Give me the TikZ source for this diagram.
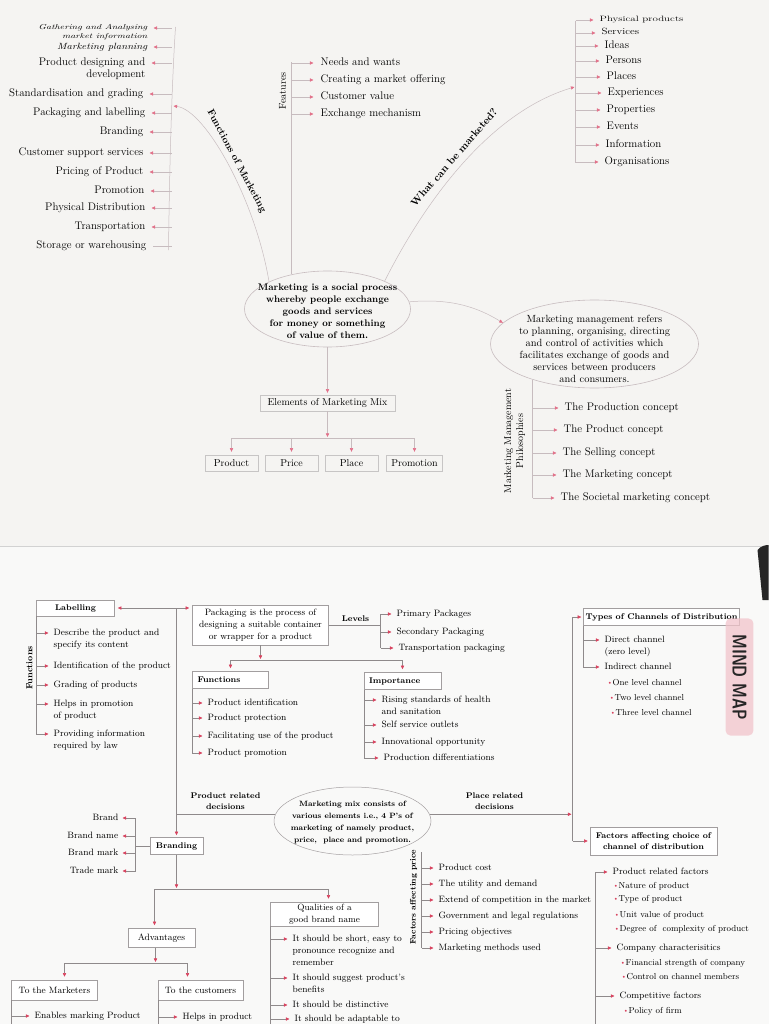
\documentclass[tikz,border=0pt]{standalone}
\usetikzlibrary{arrows.meta,shapes.geometric}

\definecolor{paper}{HTML}{F5F4F2}
\definecolor{sheet}{HTML}{F9F9F8}
\definecolor{wire}{HTML}{C7BCBF}
\definecolor{wiredark}{HTML}{8F8A8B}
\definecolor{tippink}{HTML}{E2718A}
\definecolor{tipred}{HTML}{D8435F}
\definecolor{boxline}{HTML}{A29E9F}
\definecolor{tagpink}{HTML}{F2C4CB}

\newcommand{\redpip}{\textcolor{tipred}{\raisebox{1.2pt}{\scalebox{.55}{$\bullet$}}}\,}

\begin{document}
\begin{tikzpicture}[x=1pt,y=-1pt,
  up/.style={inner sep=1pt,font=\fontsize{11}{12}\selectfont,text height=7.5pt,text depth=2.5pt},
  low/.style={inner sep=1pt,font=\fontsize{9.2}{11}\selectfont,text height=7pt,text depth=2.5pt},
  sub/.style={low,font=\fontsize{8.7}{10}\selectfont},
  lowbold/.style={font=\fontsize{8.3}{11}\selectfont\bfseries},
  uparrow/.style={draw=wire,line width=.5pt,shorten >=5pt,-{Triangle[length=3.6pt,width=3.2pt,color=tippink]}},
  uplink/.style={draw=wire,line width=.5pt},
  lowarrow/.style={draw=wiredark,line width=.5pt,shorten >=4pt,-{Triangle[length=3.6pt,width=3.2pt,color=tipred]}},
  lowlink/.style={draw=wiredark,line width=.5pt},
  mixbox/.style={draw=boxline!60,line width=.4pt,inner sep=1pt,minimum height=16pt,font=\fontsize{10}{11}\selectfont},
  lowbox/.style={draw=boxline,fill=white,line width=.5pt,inner sep=2pt,minimum height=17pt}]

  % two pages of the book
  \fill[paper] (0,0) rectangle (768,547);
  \fill[sheet] (0,547) rectangle (768,1024);
  \draw[gray!35,line width=1pt] (0,546) -- (768,546);
  \fill[black!85] (757,550) .. controls (760,546) and (765,545) .. (768,545) -- (768,600) -- (762,600) -- cycle;
  \useasboundingbox (0,0) rectangle (768,1024);

  % ---------------- first map ----------------
  \node[ellipse,draw=wire,line width=.6pt,minimum width=166pt,minimum height=76pt,inner sep=0pt] (core) at (327,309) {};
  \node[align=center,font=\fontsize{9.6}{12}\selectfont\bfseries] (coretext) at (327,311) {Marketing is a social process\\whereby people exchange\\goods and services\\for money or something\\of value of them.};

  \node[ellipse,draw=wire,line width=.6pt,minimum width=208pt,minimum height=88pt,inner sep=0pt] (mgmt) at (594,344) {};
  \node[align=center,font=\fontsize{10.4}{12}\selectfont] (mgmttext) at (594,349) {Marketing management refers\\to planning, organising, directing\\and control of activities which\\facilitates exchange of goods and\\services between producers\\and consumers.};
  \draw[uparrow,shorten >=0pt] (core.5) .. controls (452,298) and (478,308) .. (mgmt.167);

  % functions of marketing
  \draw[uplink] (175,27) .. controls (171,90) and (169,170) .. (168,250);
  \coordinate (fbar) at (171,0);
  \coordinate (fjoin) at (173,106);
  \draw[uparrow,shorten >=0pt] (core.155) .. controls (255,200) and (205,110) .. (fjoin);
  \node[rotate=-62,anchor=south,font=\fontsize{9.8}{10}\selectfont\bfseries] (fnlabel) at (229,165) {Functions of Marketing};
  \node[anchor=east,inner sep=1pt,text height=5pt,text depth=1.5pt,font=\fontsize{10}{10}\itshape] (fn1) at (148,28) {\scalebox{1}[.72]{Gathering and Analysing}};
  \node[anchor=north east,inner sep=1pt,text height=5pt,text depth=1.5pt,font=\fontsize{10}{10}\itshape] (fn1b) at (fn1.south east) {\scalebox{1}[.72]{market information}};
  \node[up,anchor=east,font=\fontsize{10.6}{12}\itshape] (fn2) at (148,47) {\scalebox{1}[.85]{Marketing planning}};
  \node[up,anchor=east] (fn3) at (146,63) {Product designing and};
  \node[up,anchor=north east] (fn3b) at (fn3.south east) {development};
  \node[up,anchor=east] (fn4) at (144,94) {Standardisation and grading};
  \node[up,anchor=east] (fn5) at (146,113) {Packaging and labelling};
  \node[up,anchor=east] (fn6) at (144,132) {Branding};
  \node[up,anchor=east] (fn7) at (144,153) {Customer support services};
  \node[up,anchor=east] (fn8) at (144,172) {Pricing of Product};
  \node[up,anchor=east] (fn9) at (145,191) {Promotion};
  \node[up,anchor=east] (fn10) at (146,208) {Physical Distribution};
  \node[up,anchor=east] (fn11) at (146,227) {Transportation};
  \node[up,anchor=east] (fn12) at (147,246) {Storage or warehousing};
  \draw[uparrow] (fbar |- fn1.east) -- (fn1.east);
  \draw[uparrow] (fbar |- fn2.east) -- (fn2.east);
  \draw[uparrow] (fbar |- fn3.east) -- (fn3.east);
  \draw[uparrow] (fbar |- fn4.east) -- (fn4.east);
  \draw[uparrow] (fbar |- fn5.east) -- (fn5.east);
  \draw[uparrow] (fbar |- fn6.east) -- (fn6.east);
  \draw[uparrow] (fbar |- fn7.east) -- (fn7.east);
  \draw[uparrow] (fbar |- fn8.east) -- (fn8.east);
  \draw[uparrow] (fbar |- fn9.east) -- (fn9.east);
  \draw[uparrow] (fbar |- fn10.east) -- (fn10.east);
  \draw[uparrow] (fbar |- fn11.east) -- (fn11.east);
  \draw[uplink,shorten >=5pt] (fbar |- fn12.east) -- (fn12.east);

  % features
  \node[rotate=90,font=\fontsize{10}{10}\selectfont] (featlabel) at (282,91) {Features};
  \draw[uplink] (core.136) -- ++(0,-212) coordinate (ftop);
  \node[up,anchor=west] (ft1) at (319,63) {Needs and wants};
  \node[up,anchor=west] (ft2) at (319,80) {Creating a market offering};
  \node[up,anchor=west] (ft3) at (319,97) {Customer value};
  \node[up,anchor=west] (ft4) at (319,114) {Exchange mechanism};
  \draw[uparrow,shorten >=6pt] (ftop |- ft1.west) -- (ft1.west);
  \draw[uparrow,shorten >=6pt] (ftop |- ft2.west) -- (ft2.west);
  \draw[uparrow,shorten >=6pt] (ftop |- ft3.west) -- (ft3.west);
  \draw[uparrow,shorten >=6pt] (ftop |- ft4.west) -- (ft4.west);

  % what can be marketed
  \coordinate (wjoin) at (574,87);
  \coordinate (wtop) at (575,21);
  \coordinate (wbot) at (575,163);
  \draw[uplink] (wtop) -- (wbot);
  \draw[uparrow,shorten >=0pt] (core.26) .. controls (425,200) and (490,112) .. (wjoin);
  \node[rotate=49,anchor=south,font=\fontsize{10.4}{11}\selectfont\bfseries] (wlabel) at (459,162) {What can be marketed?};
  \node[up,anchor=west,text height=5pt,text depth=1.5pt] (wm1) at (598,20) {\scalebox{1}[.7]{Physical products}};
  \node[up,anchor=west,text height=6pt,text depth=2pt] (wm2) at (600,33) {\scalebox{1}[.82]{Services}};
  \node[up,anchor=west] (wm3) at (603,46) {Ideas};
  \node[up,anchor=west] (wm4) at (604,61) {Persons};
  \node[up,anchor=west] (wm5) at (605,77) {Places};
  \node[up,anchor=west] (wm6) at (606,93) {Experiences};
  \node[up,anchor=west] (wm7) at (605,110) {Properties};
  \node[up,anchor=west] (wm8) at (605,127) {Events};
  \node[up,anchor=west] (wm9) at (604,145) {Information};
  \node[up,anchor=west] (wm10) at (603,162) {Organisations};
  \draw[uparrow] (wtop |- wm1.west) -- (wm1.west);
  \draw[uparrow] (wtop |- wm2.west) -- (wm2.west);
  \draw[uparrow] (wtop |- wm3.west) -- (wm3.west);
  \draw[uparrow] (wtop |- wm4.west) -- (wm4.west);
  \draw[uparrow] (wtop |- wm5.west) -- (wm5.west);
  \draw[uparrow] (wtop |- wm6.west) -- (wm6.west);
  \draw[uparrow] (wtop |- wm7.west) -- (wm7.west);
  \draw[uparrow] (wtop |- wm8.west) -- (wm8.west);
  \draw[uparrow] (wtop |- wm9.west) -- (wm9.west);
  \draw[uparrow] (wtop |- wm10.west) -- (wm10.west);

  % philosophies
  \node[rotate=90,align=center,font=\fontsize{10}{12}\selectfont] (phlabel) at (514,441) {Marketing Management\\Philosophies};
  \draw[uplink] (mgmt.210) -- ++(0,118) coordinate (pbot);
  \node[up,anchor=west] (ph1) at (563,408) {The Production concept};
  \node[up,anchor=west] (ph2) at (562,430) {The Product concept};
  \node[up,anchor=west] (ph3) at (561,453) {The Selling concept};
  \node[up,anchor=west] (ph4) at (561,475) {The Marketing concept};
  \node[up,anchor=west] (ph5) at (559,498) {The Societal marketing concept};
  \draw[uparrow] (pbot |- ph1.west) -- (ph1.west);
  \draw[uparrow] (pbot |- ph2.west) -- (ph2.west);
  \draw[uparrow] (pbot |- ph3.west) -- (ph3.west);
  \draw[uparrow] (pbot |- ph4.west) -- (ph4.west);
  \draw[uparrow] (pbot |- ph5.west) -- (ph5.west);

  % elements of the mix
  \node[mixbox,minimum width=135pt] (elem) at (327,403) {Elements of Marketing Mix};
  \draw[uparrow,shorten >=2pt] (core.south) -- (elem.north);
  \coordinate (mixsplit) at (327,438);
  \draw[uparrow,shorten >=1pt] (elem.south) -- (mixsplit);
  \node[mixbox,minimum width=53pt] (pprod) at (231,463) {Product};
  \node[mixbox,minimum width=53pt] (pprice) at (291,463) {Price};
  \node[mixbox,minimum width=53pt] (pplace) at (351,463) {Place};
  \node[mixbox,minimum width=56pt] (ppromo) at (414,463) {Promotion};
  \draw[uplink] (pprod.north |- mixsplit) -- (ppromo.north |- mixsplit);
  \draw[uparrow,shorten >=3pt] (pprod.north |- mixsplit) -- (pprod.north);
  \draw[uparrow,shorten >=3pt] (pprice.north |- mixsplit) -- (pprice.north);
  \draw[uparrow,shorten >=3pt] (pplace.north |- mixsplit) -- (pplace.north);
  \draw[uparrow,shorten >=3pt] (ppromo.north |- mixsplit) -- (ppromo.north);

  % ---------------- second map ----------------
  \node[lowbox,lowbold,minimum width=78pt,minimum height=16pt] (lab) at (75,608) {Labelling};
  \node[lowbox,align=center,minimum width=136pt,minimum height=40pt,font=\fontsize{9.2}{11.8}\selectfont] (pack) at (260,625) {Packaging is the process of\\designing a suitable container\\or wrapper for a product};
  \coordinate (jl) at (176,608);
  \draw[lowarrow,shorten >=3pt] (jl) -- (lab.east);
  \draw[lowarrow,shorten >=3pt] (jl) -- (jl -| pack.west);

  % labelling
  \node[rotate=90,font=\fontsize{8.8}{9}\selectfont\bfseries] (labfun) at (29,668) {Functions};
  \node[low,anchor=west] (lf1) at (52,633) {Describe the product and};
  \node[low,anchor=north west] (lf1b) at (lf1.south west) {specify its content};
  \node[low,anchor=west] (lf2) at (52,666) {Identification of the product};
  \node[low,anchor=west] (lf3) at (52,685) {Grading of products};
  \node[low,anchor=west] (lf4) at (52,704) {Helps in promotion};
  \node[low,anchor=north west] (lf4b) at (lf4.south west) {of product};
  \node[low,anchor=west] (lf5) at (52,734) {Providing information};
  \node[low,anchor=north west] (lf5b) at (lf5.south west) {required by law};
  \draw[lowlink] (lab.south west) -- (lab.south west |- lf5.west);
  \draw[lowarrow] (lab.south west |- lf1.west) -- (lf1.west);
  \draw[lowarrow] (lab.south west |- lf2.west) -- (lf2.west);
  \draw[lowarrow] (lab.south west |- lf3.west) -- (lf3.west);
  \draw[lowarrow] (lab.south west |- lf4.west) -- (lf4.west);
  \draw[lowarrow] (lab.south west |- lf5.west) -- (lf5.west);

  % packaging levels
  \node[lowbold] (lev) at (355,619) {Levels};
  \coordinate (levbar) at (380,625);
  \draw[lowlink] (pack.east) -- (levbar);
  \node[low,anchor=west] (lv1) at (395,614) {Primary Packages};
  \node[low,anchor=west] (lv2) at (395,632) {Secondary Packaging};
  \node[low,anchor=west] (lv3) at (397,648) {Transportation packaging};
  \draw[lowlink] (levbar |- lv1.west) -- (levbar |- lv3.west);
  \draw[lowarrow] (levbar |- lv1.west) -- (lv1.west);
  \draw[lowarrow] (levbar |- lv2.west) -- (lv2.west);
  \draw[lowarrow] (levbar |- lv3.west) -- (lv3.west);

  % packaging functions and importance
  \coordinate (packsplit) at (260,660);
  \draw[lowarrow,shorten >=1pt] (pack.south) -- (packsplit);
  \node[lowbox,lowbold,text width=66pt,inner xsep=5pt,align=left] (pfun) at (230,680) {Functions};
  \node[lowbox,lowbold,text width=67pt,inner xsep=5pt,align=left] (pimp) at (402,681) {Importance};
  \draw[lowlink] (pfun.north |- packsplit) -- (pimp.north |- packsplit);
  \draw[lowarrow,shorten >=3pt] (pfun.north |- packsplit) -- (pfun.north);
  \draw[lowarrow,shorten >=3pt] (pimp.north |- packsplit) -- (pimp.north);
  \node[low,anchor=west] (pf1) at (206,703) {Product identification};
  \node[low,anchor=west] (pf2) at (206,718) {Product protection};
  \node[low,anchor=west] (pf3) at (206,736) {Facilitating use of the product};
  \node[low,anchor=west] (pf4) at (206,753) {Product promotion};
  \draw[lowlink] (pfun.south west) -- (pfun.south west |- pf4.west);
  \draw[lowarrow] (pfun.south west |- pf1.west) -- (pf1.west);
  \draw[lowarrow] (pfun.south west |- pf2.west) -- (pf2.west);
  \draw[lowarrow] (pfun.south west |- pf3.west) -- (pf3.west);
  \draw[lowarrow] (pfun.south west |- pf4.west) -- (pf4.west);
  \node[low,anchor=west] (pi1) at (380,700) {Rising standards of health};
  \node[low,anchor=north west] (pi1b) at (pi1.south west) {and sanitation};
  \node[low,anchor=west] (pi2) at (380,725) {Self service outlets};
  \node[low,anchor=west] (pi3) at (380,742) {Innovational opportunity};
  \node[low,anchor=west] (pi4) at (382,758) {Production differentiations};
  \draw[lowlink] (pimp.south west) -- (pimp.south west |- pi4.west);
  \draw[lowarrow] (pimp.south west |- pi1.west) -- (pi1.west);
  \draw[lowarrow] (pimp.south west |- pi2.west) -- (pi2.west);
  \draw[lowarrow] (pimp.south west |- pi3.west) -- (pi3.west);
  \draw[lowarrow] (pimp.south west |- pi4.west) -- (pi4.west);

  % channels
  \node[lowbox,lowbold,minimum width=148pt] (types) at (661,617) {Types of Channels of Distribution};
  \node[lowbox,align=center,minimum width=127pt,minimum height=28pt,font=\fontsize{8.3}{11}\selectfont\bfseries] (fac) at (653,841) {Factors affecting choice of\\channel of distribution};
  \coordinate (chtop) at (572,617);
  \coordinate (chbot) at (572,841);
  \draw[lowlink] (chtop) -- (chbot);
  \draw[lowarrow,shorten >=2pt] (chtop) -- (types.west);
  \draw[lowarrow,shorten >=2pt] (chbot) -- (fac.west);
  \node[low,anchor=west] (ty1) at (603,640) {Direct channel};
  \node[low,anchor=north west] (ty1b) at (ty1.south west) {(zero level)};
  \node[low,anchor=west] (ty2) at (603,667) {Indirect channel};
  \node[sub,anchor=west] (ty3) at (607,683) {\redpip One level channel};
  \node[sub,anchor=west] (ty4) at (609,698) {\redpip Two level channel};
  \node[sub,anchor=west] (ty5) at (610,713) {\redpip Three level channel};
  \draw[lowlink] (types.south west) -- (types.south west |- ty2.west);
  \draw[lowarrow] (types.south west |- ty1.west) -- (ty1.west);
  \draw[lowarrow] (types.south west |- ty2.west) -- (ty2.west);

  % mind map tag
  \node[rotate=-90,fill=tagpink,fill opacity=.75,text opacity=1,rounded corners=5pt,inner xsep=16pt,inner ysep=7pt,font=\sffamily\bfseries\fontsize{20}{20}\selectfont,text=black!85] (tag) at (739,677) {\scalebox{.75}[1]{MIND MAP}};

  % marketing mix
  \node[ellipse,draw=wiredark!80,line width=.5pt,minimum width=157pt,minimum height=68pt,inner sep=0pt] (mix) at (352,821) {};
  \node[align=center,font=\fontsize{7.7}{12}\selectfont\bfseries] (mixtext) at (352,823) {Marketing mix consists of\\various elements i.e., 4 P's of\\marketing of namely product,\\price,\ \ place and promotion.};
  \node[align=center,font=\fontsize{8.2}{11}\selectfont\bfseries] (prodrel) at (225,801) {Product related\\decisions};
  \node[align=center,font=\fontsize{8.2}{11}\selectfont\bfseries] (placerel) at (494,801) {Place related\\decisions};
  \draw[lowlink] (mix.175) -- (mix.175 -| jl);
  \draw[lowarrow,shorten >=1pt] (mix.5) -- (mix.5 -| chtop);

  % factors affecting choice of channel
  \coordinate (fctop) at (595,872);
  \coordinate (fcbot) at (595,1024);
  \draw[lowlink] (fctop) -- (fcbot);
  \node[low,anchor=west] (fc1) at (611,872) {Product related factors};
  \node[sub,anchor=west] (fc1a) at (613,886) {\redpip Nature of product};
  \node[sub,anchor=west] (fc1b) at (613,899) {\redpip Type of product};
  \node[sub,anchor=west] (fc1c) at (614,915) {\redpip Unit value of product};
  \node[sub,anchor=west] (fc1d) at (614,929) {\redpip Degree of\ \ complexity of product};
  \node[low,anchor=west] (fc2) at (615,948) {Company characterisitics};
  \node[sub,anchor=west] (fc2a) at (620,963) {\redpip Financial strength of company};
  \node[sub,anchor=west] (fc2b) at (621,977) {\redpip Control on channel members};
  \node[low,anchor=west] (fc3) at (618,996) {Competitive factors};
  \node[sub,anchor=west] (fc3a) at (623,1011) {\redpip Policy of firm};
  \draw[lowarrow] (fctop |- fc1.west) -- (fc1.west);
  \draw[lowarrow] (fctop |- fc2.west) -- (fc2.west);
  \draw[lowarrow] (fctop |- fc3.west) -- (fc3.west);

  % factors affecting price
  \node[rotate=90,font=\fontsize{8}{9}\selectfont\bfseries] (prlabel) at (413,897) {Factors affecting price};
  \coordinate (prtop) at (421,852);
  \node[low,anchor=west] (pr1) at (437,868) {Product cost};
  \node[low,anchor=west] (pr2) at (437,884) {The utility and demand};
  \node[low,anchor=west] (pr3) at (437,900) {Extend of competition in the market};
  \node[low,anchor=west] (pr4) at (437,916) {Government and legal regulations};
  \node[low,anchor=west] (pr5) at (437,932) {Pricing objectives};
  \node[low,anchor=west] (pr6) at (437,948) {Marketing methods used};
  \draw[lowlink] (prtop) -- (prtop |- pr6.west);
  \draw[lowarrow] (prtop |- pr1.west) -- (pr1.west);
  \draw[lowarrow] (prtop |- pr2.west) -- (pr2.west);
  \draw[lowarrow] (prtop |- pr3.west) -- (pr3.west);
  \draw[lowarrow] (prtop |- pr4.west) -- (pr4.west);
  \draw[lowarrow] (prtop |- pr5.west) -- (pr5.west);
  \draw[lowarrow] (prtop |- pr6.west) -- (pr6.west);

  % branding
  \node[lowbox,lowbold,minimum width=53pt] (brand) at (176,846) {Branding};
  \draw[lowarrow,shorten >=2pt] (jl) -- (brand.north);
  \coordinate (bbar) at (135,846);
  \draw[lowlink] (brand.west) -- (bbar);
  \node[low,anchor=east] (bn1) at (119,818) {Brand};
  \node[low,anchor=east] (bn2) at (119,836) {Brand name};
  \node[low,anchor=east] (bn3) at (119,853) {Brand mark};
  \node[low,anchor=east] (bn4) at (119,871) {Trade mark};
  \draw[lowlink] (bbar |- bn1.east) -- (bbar |- bn4.east);
  \draw[lowarrow,shorten >=3pt] (bbar |- bn1.east) -- (bn1.east);
  \draw[lowarrow,shorten >=3pt] (bbar |- bn2.east) -- (bn2.east);
  \draw[lowarrow,shorten >=3pt] (bbar |- bn3.east) -- (bn3.east);
  \draw[lowarrow,shorten >=3pt] (bbar |- bn4.east) -- (bn4.east);

  \coordinate (bsplit) at (176,889);
  \coordinate (badv) at (154,889);
  \coordinate (bqual) at (328,889);
  \draw[lowarrow,shorten >=1pt] (brand.south) -- (bsplit);
  \node[lowbox,minimum width=67pt,minimum height=19pt,font=\fontsize{9.2}{11}\selectfont] (adv) at (161,938) {Advantages};
  \node[lowbox,align=center,minimum width=108pt,minimum height=24pt,font=\fontsize{9}{11.5}\selectfont] (qual) at (324,914) {Qualities of a\\good brand name};
  \draw[lowlink] (badv) -- (bqual);
  \draw[lowarrow,shorten >=3pt] (badv) -- (badv |- adv.north);
  \draw[lowarrow,shorten >=3pt] (bqual) -- (bqual |- qual.north);

  % advantages
  \coordinate (asplit) at (155,963);
  \coordinate (amark) at (64,963);
  \coordinate (acust) at (187,963);
  \draw[lowarrow,shorten >=1pt] (adv.south -| asplit) -- (asplit);
  \draw[lowlink] (amark) -- (acust);
  \node[lowbox,minimum width=86pt,minimum height=20pt,font=\fontsize{9.2}{11}\selectfont] (tomark) at (54,990) {To the Marketers};
  \node[lowbox,minimum width=85pt,minimum height=20pt,font=\fontsize{9.2}{11}\selectfont] (tocust) at (200,990) {To the customers};
  \draw[lowarrow,shorten >=3pt] (amark) -- (amark |- tomark.north);
  \draw[lowarrow,shorten >=3pt] (acust) -- (acust |- tocust.north);
  \node[low,anchor=west] (mk1) at (33,1016) {Enables marking Product};
  \node[low,anchor=west] (cu1) at (181,1017) {Helps in product};
  \draw[lowlink] (tomark.south west) -- ++(0,30);
  \draw[lowlink] (tocust.south west) -- ++(0,30);
  \draw[lowarrow] (tomark.south west |- mk1.west) -- (mk1.west);
  \draw[lowarrow] (tocust.south west |- cu1.west) -- (cu1.west);

  % qualities of a brand name
  \node[low,anchor=west] (q1) at (291,939) {It should be short, easy to};
  \node[low,anchor=north west] (q1b) at (q1.south west) {pronounce recognize and};
  \node[low,anchor=north west] (q1c) at (q1b.south west) {remember};
  \node[low,anchor=west] (q2) at (291,978) {It should suggest product's};
  \node[low,anchor=north west] (q2b) at (q2.south west) {benefits};
  \node[low,anchor=west] (q3) at (291,1005) {It should be distinctive};
  \node[low,anchor=west] (q4) at (293,1019) {It should be adaptable to};
  \draw[lowlink] (qual.south west) -- ++(0,110);
  \draw[lowarrow] (qual.south west |- q1.west) -- (q1.west);
  \draw[lowarrow] (qual.south west |- q2.west) -- (q2.west);
  \draw[lowarrow] (qual.south west |- q3.west) -- (q3.west);
  \draw[lowarrow] (qual.south west |- q4.west) -- (q4.west);
\end{tikzpicture}
\end{document}
